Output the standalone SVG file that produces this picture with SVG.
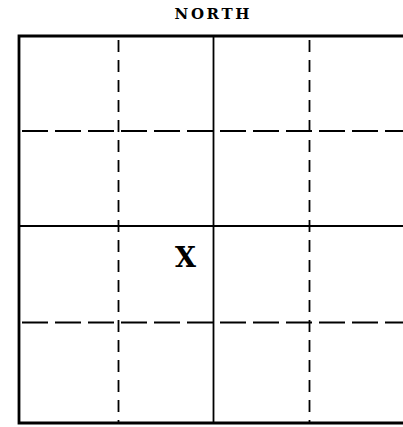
<svg xmlns="http://www.w3.org/2000/svg" width="403" height="427" viewBox="0 0 403 427">
<style>
.border{stroke:#000;stroke-width:2.8;fill:none}
.solid{stroke:#000;stroke-width:1.8;fill:none}
.dashv{stroke:#000;stroke-width:1.8;fill:none;stroke-dasharray:12 8}
.dashh{stroke:#000;stroke-width:2;fill:none;stroke-dasharray:26 7}
.lbl{font-family:"DejaVu Serif","Liberation Serif",serif;fill:#000}
</style>
<rect width="403" height="427" fill="#fff"/>
<text class="lbl" x="212" y="18.5" font-size="15" font-weight="bold" text-anchor="middle" textLength="75" lengthAdjust="spacing">NORTH</text>
<g id="grid">
<path class="dashv" d="M118.5 40V423"/>
<path class="dashv" d="M309.5 40V423"/>
<path class="solid" d="M213.5 36V423"/>
<path class="dashh" d="M22 131H403"/>
<path class="dashh" d="M22 322.5H403"/>
<path class="solid" d="M20 226H403"/>
<path class="border" d="M403 36H19V423H403"/>
</g>
<text class="lbl" x="185.5" y="267" font-size="27" font-weight="bold" text-anchor="middle">X</text>
</svg>
